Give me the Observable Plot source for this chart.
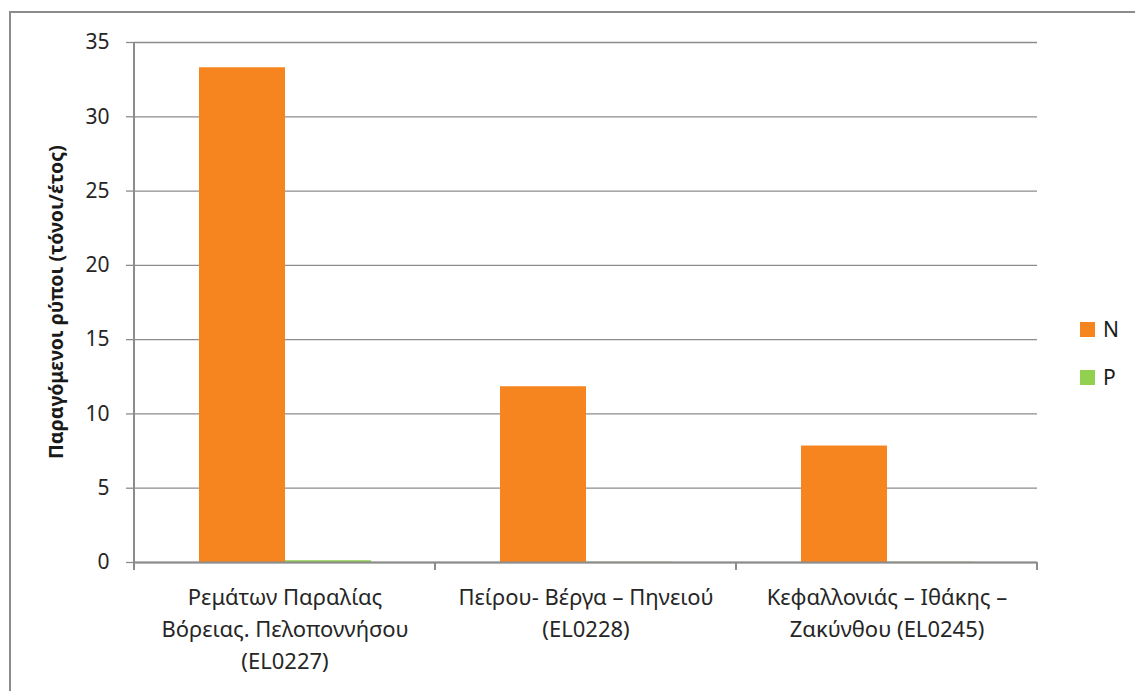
<!DOCTYPE html>
<html><head><meta charset="utf-8">
<script src="https://cdn.jsdelivr.net/npm/d3@7"></script>
<script src="https://cdn.jsdelivr.net/npm/@observablehq/plot@0.6"></script>
<style>
body{margin:0;overflow:hidden;background:#fff;font-family:"Noto Sans",sans-serif}
#wrap{position:relative;width:1135px;height:691px;overflow:hidden}
#border{position:absolute;left:9px;top:11px;width:1300px;height:900px;border:2px solid #8c8c8c;box-sizing:border-box}
#chart{position:absolute;left:0;top:0}
.lg{position:absolute;left:1080px;font-size:21px;color:#1a1a1a;line-height:15px;display:flex;align-items:center}
.lg span.sw{display:inline-block;width:15px;height:15px;margin-right:8px}
</style>
</head><body>
<div id="wrap"><div id="border"></div><div id="chart"></div><div id="legend"></div></div>
<script>
const categories = [
  "Ρεμάτων Παραλίας\nΒόρειας. Πελοποννήσου\n(EL0227)",
  "Πείρου- Βέργα – Πηνειού\n(EL0228)",
  "Κεφαλλονιάς – Ιθάκης –\nΖακύνθου (EL0245)"
];
const series = ["N", "P"];
const valuesN = [33.3, 11.83, 7.84];
const valuesP = [0.12, 0.02, 0.02];
const yTicks = [0, 5, 10, 15, 20, 25, 30, 35];
const yLabel = "Παραγόμενοι ρύποι (τόνοι/έτος)";
const colors = ["#F6851F", "#92D050"];

const rows = categories.flatMap((c, i) => [
  {cat: c, series: "N", value: valuesN[i]},
  {cat: c, series: "P", value: valuesP[i]}
]);

const gray = "#8c8c8c";
const plot = Plot.plot({
  width: 1135, height: 691,
  marginTop: 42, marginBottom: 129, marginLeft: 133, marginRight: 97,
  style: {fontFamily: "'Noto Sans', sans-serif", fontSize: "21px", color: "#262626", background: "transparent", overflow: "visible"},
  fx: {domain: categories, padding: 0, label: null},
  x: {domain: series, paddingInner: 0, paddingOuter: 0.75, axis: null},
  y: {domain: [0, 35], label: null},
  color: {domain: series, range: colors},
  marks: [
    Plot.gridY({ticks: yTicks, stroke: gray, strokeOpacity: 1, strokeWidth: 1.3}),
    Plot.barY(rows, {fx: "cat", x: "series", y: "value", fill: "series"}),
    Plot.ruleY([0], {stroke: gray, strokeWidth: 2}),
    Plot.axisY({ticks: yTicks, tickSize: 8, tickPadding: 17, stroke: gray, strokeWidth: 1.3, strokeOpacity: 1, label: null, fontSize: 21}),
    Plot.axisFx({anchor: "bottom", tickSize: 0, tickPadding: 20, lineHeight: 1.45, fontSize: 22, label: null})
  ]
});
document.getElementById("chart").appendChild(plot);

// boundary ticks and y axis line from the library scales
const svg = d3.select(plot);
const fxs = plot.scale("fx");
const ys = plot.scale("y");
const y0 = ys.apply(0), yTop = ys.apply(35);
const edges = categories.map(c => fxs.apply(c));
edges.push(fxs.apply(categories[categories.length - 1]) + fxs.bandwidth);
const g = svg.append("g").attr("stroke", gray).attr("stroke-width", 2);
edges.forEach(e => g.append("line").attr("x1", e).attr("x2", e).attr("y1", y0).attr("y2", y0 + 8));
g.append("line").attr("x1", edges[0]).attr("x2", edges[0]).attr("y1", yTop).attr("y2", y0).attr("stroke-width", 2);

svg.append("text")
  .attr("transform", `translate(58,${(y0 + yTop) / 2}) rotate(-90)`)
  .attr("text-anchor", "middle").attr("dominant-baseline", "middle")
  .attr("font-weight", "bold").attr("font-size", 19.5).attr("fill", "#1a1a1a")
  .attr("font-family", "'Noto Sans', sans-serif")
  .text(yLabel);

const legend = document.getElementById("legend");
series.forEach((s, i) => {
  const d = document.createElement("div");
  d.className = "lg";
  d.style.top = (322 + i * 48) + "px";
  d.innerHTML = `<span class="sw" style="background:${colors[i]}"></span><span>${s}</span>`;
  legend.appendChild(d);
});
</script>
</body></html>
